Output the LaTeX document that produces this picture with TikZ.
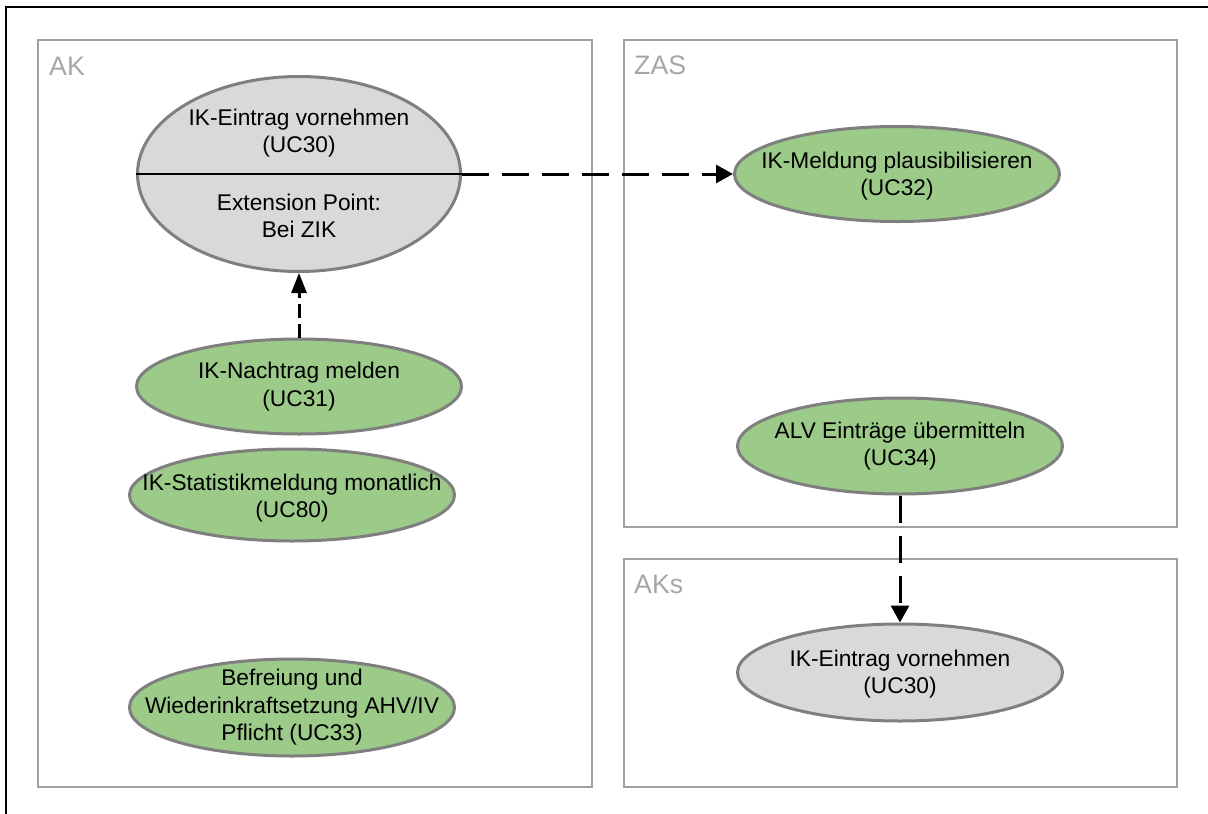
\documentclass[tikz,border=0pt]{standalone}
\usepackage{fontspec}
\setmainfont{Liberation Sans}
\usetikzlibrary{arrows.meta,shapes.geometric}
\definecolor{ucgreen}{RGB}{155,202,137}
\definecolor{ucgrey}{RGB}{217,217,217}
\definecolor{ucline}{RGB}{127,127,127}
\definecolor{boxline}{RGB}{160,160,160}
\definecolor{boxtext}{RGB}{166,166,166}
\begin{document}
\begin{tikzpicture}[x=1pt,y=-1pt,
    txt/.style={align=center,inner sep=0pt,font=\fontsize{22.7}{27.5}\selectfont},
    uc/.style={ellipse,draw=ucline,line width=3pt,minimum width=325pt,minimum height=95pt,inner sep=0pt},
    ucok/.style={uc,fill=ucgreen},
    ucbase/.style={uc,fill=ucgrey},
    sysbox/.style={draw=boxline,line width=2pt},
    syslabel/.style={anchor=base west,inner sep=0pt,text=boxtext,font=\fontsize{26.7}{30}\selectfont},
    dep/.style={line width=3pt,dash pattern=on 27pt off 13pt,-{Triangle[length=17pt,width=18pt]}}]
    \useasboundingbox (0,0) rectangle (1208,814);
    \draw[line width=2pt] (1208,6.5) -- (5.5,6.5) -- (5.5,814);
    \draw[sysbox] (38,40) rectangle (592,787);
    \draw[sysbox] (624,40) rectangle (1177,527);
    \draw[sysbox] (624,559) rectangle (1177,787);
    \node[syslabel] (L_AK) at (49,75) {AK};
    \node[syslabel] (L_ZAS) at (634,74) {ZAS};
    \node[syslabel] (L_AKs) at (634,593) {AKs};

    \node[ucbase,minimum width=323pt,minimum height=195pt] (UC_30) at (299,174) {};
    \node[txt] (UC_30_name) at (299,133) {IK-Eintrag vornehmen\\(UC30)};
    \node[txt] (UC_30_ext) at (299,216) {Extension Point:\\Bei ZIK};
    \draw[line width=1.5pt] (UC_30.west) -- (UC_30.east);

    \node[ucok] (UC_31) at (299,386.5) {};
    \node[txt] (UC_31_txt) at (UC_31) {IK-Nachtrag melden\\(UC31)};
    \node[ucok,minimum height=92pt] (UC_80) at (292,495) {};
    \node[txt] (UC_80_txt) at (292,498) {IK-Statistikmeldung monatlich\\(UC80)};
    \node[ucok,minimum height=97pt] (UC_33) at (292,707.5) {};
    \node[txt] (UC_33_txt) at (UC_33) {Befreiung und\\Wiederinkraftsetzung AHV/IV\\Pflicht (UC33)};
    \node[ucok] (UC_32) at (897,174) {};
    \node[txt] (UC_32_txt) at (897,176) {IK-Meldung plausibilisieren\\(UC32)};
    \node[ucok,minimum height=96pt] (UC_34) at (900,446) {};
    \node[txt] (UC_34_txt) at (UC_34) {ALV Einträge übermitteln\\(UC34)};
    \node[ucbase,minimum height=97pt] (UC_30s) at (900,672.5) {};
    \node[txt] (UC_30s_txt) at (900,674) {IK-Eintrag vornehmen\\(UC30)};

    \draw[dep] (UC_30.east) -- (UC_32.west);
    \draw[dep,dash pattern=on 14pt off 6pt,-{Triangle[length=20pt,width=15pt]}] (UC_31.north) -- (UC_30.south);
    \draw[dep] (UC_34.south) -- (UC_30s.north);
\end{tikzpicture}
\end{document}
